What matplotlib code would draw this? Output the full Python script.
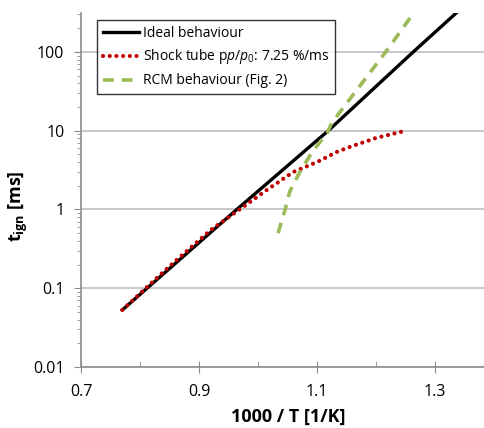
import numpy as np
import matplotlib.pyplot as plt
from matplotlib.ticker import LogLocator, FixedLocator, NullFormatter

plt.rcParams['font.family'] = ['Open Sans', 'DejaVu Sans']
plt.rcParams['mathtext.fontset'] = 'custom'
plt.rcParams['mathtext.it'] = 'Open Sans:italic'
plt.rcParams['mathtext.rm'] = 'Open Sans'
plt.rcParams['mathtext.bf'] = 'Open Sans:bold'

# Ideal behaviour
ideal_x = [0.770, 0.964, 1.119, 1.263, 1.345]
ideal_y = [0.053, 1.0, 10.0, 100.0, 360.0]

# Shock tube with pressure rise
shock_x = [0.770, 0.850, 0.920, 0.960, 1.015, 1.060, 1.100, 1.134, 1.160, 1.185, 1.200, 1.250]
shock_y = [0.053, 0.19, 0.55, 0.90, 1.77, 3.0, 4.0, 5.4, 6.4, 7.4, 8.1, 10.0]

# RCM behaviour
rcm_x = [1.034, 1.046, 1.054, 1.071, 1.092, 1.117, 1.125, 1.176, 1.219, 1.262]
rcm_y = [0.50, 1.0, 1.7, 3.0, 5.4, 9.3, 12.6, 40.0, 106.0, 300.0]

fig = plt.figure(figsize=(4.84, 4.28), dpi=100)
ax = fig.add_axes([81 / 484, 1 - 367 / 428, 403 / 484, 354 / 428])

ax.plot(ideal_x, ideal_y, color='black', lw=2.4, label='Ideal behaviour')
ax.plot(shock_x, shock_y, color='#C00000', lw=3.0, linestyle=(0, (0.01, 1.6)),
        dash_capstyle='round', label='Shock tube p$p/p_0$: 7.25 %/ms')
ax.plot(rcm_x, rcm_y, color='#9BBB59', lw=2.6, linestyle=(0, (3, 2.2)),
        label='RCM behaviour (Fig. 2)')

ax.set_yscale('log')
ax.set_xlim(0.7, 0.7 + 403 / 590)
ax.set_ylim(0.01, 10 ** 2.495)

ax.yaxis.set_major_locator(FixedLocator([0.01, 0.1, 1, 10, 100]))
ax.set_yticklabels(['0.01', '0.1', '1', '10', '100'])
ax.yaxis.set_minor_locator(LogLocator(base=10, subs=np.arange(2, 10)))
ax.yaxis.set_minor_formatter(NullFormatter())
ax.xaxis.set_major_locator(FixedLocator([0.7, 0.9, 1.1, 1.3]))
ax.set_xticklabels(['0.7', '0.9', '1.1', '1.3'])
ax.xaxis.set_minor_locator(FixedLocator([0.8, 1.0, 1.2]))

ax.grid(axis='y', which='major', color='#BFBFBF', lw=1.2)
ax.set_axisbelow(True)
for s in ['top', 'right']:
    ax.spines[s].set_visible(False)
for s in ['left', 'bottom']:
    ax.spines[s].set_color('#8C8C8C')
    ax.spines[s].set_linewidth(1.2)

ax.tick_params(axis='y', which='major', direction='out', length=5, color='#8C8C8C',
               labelsize=11.5, pad=7)
ax.tick_params(axis='y', which='minor', direction='out', length=3, color='#8C8C8C')
ax.tick_params(axis='x', which='major', direction='inout', length=8, color='#8C8C8C',
               labelsize=11.5, pad=8)
ax.tick_params(axis='x', which='minor', direction='in', length=4, color='#8C8C8C')

ax.set_xlabel('1000 / T [1/K]', fontsize=13, fontweight='bold')
ax.set_ylabel('t$_{\\mathbf{ign}}$ [ms]', fontsize=13, fontweight='bold')
ax.xaxis.set_label_coords(0.515, -0.115)
ax.yaxis.set_label_coords(-0.127, 0.455)

leg = ax.legend(loc='upper left', bbox_to_anchor=(16 / 403, 1 - 7 / 354), fontsize=10,
                frameon=True, fancybox=False, edgecolor='black', handlelength=2.6,
                borderpad=0.4, labelspacing=0.5, handletextpad=0.3, borderaxespad=0)
leg.get_frame().set_linewidth(1.0)

fig.savefig('out.png', dpi=100)
